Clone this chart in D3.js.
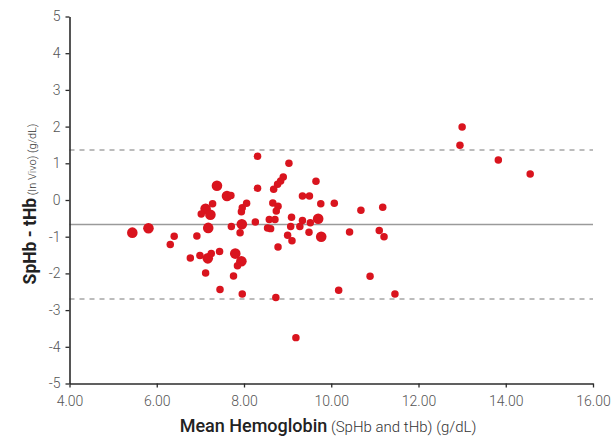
<!DOCTYPE html>
<html>
<head>
<meta charset="utf-8">
<script src="https://cdn.jsdelivr.net/npm/d3@7"></script>
<style>
  html, body { margin: 0; padding: 0; background: #fff; }
  svg { display: block; }
  .tick text { font-family: Roboto, "DejaVu Sans", sans-serif; font-size: 14px; font-weight: 300; fill: #555; }
</style>
</head>
<body>
<svg id="chart" width="612" height="440"></svg>
<script>
// Mean of SpHb and tHb (g/dL)
const meanHb = [
  5.44, 5.81, 6.40, 6.31, 6.92, 6.77, 6.99, 7.17, 7.25, 7.44,
  7.12, 7.45, 7.80, 7.94, 7.85, 7.76, 7.96, 7.38, 7.61, 7.70,
  7.28, 7.12, 7.23, 7.02, 7.18, 7.71, 7.95, 7.91, 7.96, 7.94,
  8.06, 8.26, 8.31, 8.31, 9.03, 8.90, 8.84, 8.77, 8.68, 9.65,
  8.66, 8.78, 8.74, 9.34, 9.50, 9.76, 10.07, 10.68, 11.18, 8.58,
  8.71, 8.54, 8.61, 9.09, 9.07, 9.34, 9.28, 9.52, 9.70, 9.49,
  9.77, 9.00, 9.10, 8.78, 10.42, 11.10, 11.21, 10.89, 10.17, 11.46,
  8.73, 9.19, 13.00, 12.95, 13.83, 14.56
];
// Difference SpHb - tHb (g/dL)
const diffHb = [
  -0.89, -0.77, -0.99, -1.21, -0.98, -1.58, -1.51, -1.59, -1.46, -1.40,
  -1.99, -2.44, -1.46, -1.67, -1.79, -2.07, -2.56, 0.39, 0.11, 0.12,
  -0.10, -0.24, -0.40, -0.38, -0.76, -0.72, -0.66, -0.89, -0.21, -0.32,
  -0.09, -0.60, 0.32, 1.19, 1.00, 0.63, 0.52, 0.43, 0.29, 0.51,
  -0.08, -0.17, -0.30, 0.11, 0.11, -0.10, -0.09, -0.28, -0.20, -0.53,
  -0.53, -0.76, -0.78, -0.47, -0.72, -0.56, -0.72, -0.62, -0.51, -0.88,
  -1.00, -0.96, -1.11, -1.28, -0.87, -0.83, -1.00, -2.08, -2.46, -2.56,
  -2.66, -3.75, 1.99, 1.49, 1.09, 0.71
];
// Number of coincident observations at each point
const pointCount = [
  2, 2, 1, 1, 1, 1, 1, 2, 1, 1,
  1, 1, 2, 2, 1, 1, 1, 2, 2, 1,
  1, 2, 2, 1, 2, 1, 2, 1, 1, 1,
  1, 1, 1, 1, 1, 1, 1, 1, 1, 1,
  1, 1, 1, 1, 1, 1, 1, 1, 1, 1,
  1, 1, 1, 1, 1, 1, 1, 1, 2, 1,
  2, 1, 1, 1, 1, 1, 1, 1, 1, 1,
  1, 1, 1, 1, 1, 1
];
// Bias and 95% limits of agreement
const bias = -0.67;
const limits = [1.36, -2.70];

const xTicks = [4, 6, 8, 10, 12, 14, 16];
const yTicks = [-5, -4, -3, -2, -1, 0, 1, 2, 3, 4, 5];

const points = meanHb.map((m, i) => ({ x: m, y: diffHb[i], n: pointCount[i] }));

const svg = d3.select("#chart");
const x = d3.scaleLinear().domain([4, 16]).range([69.5, 593]);
const y = d3.scaleLinear().domain([-5, 5]).range([383.5, 16.5]);
const r = d3.scaleSqrt().domain([0, 2]).range([0, 5.3]);

// Limits of agreement (dashed) and bias (solid)
svg.append("g").selectAll("line.loa")
  .data(limits)
  .join("line")
  .attr("class", "loa")
  .attr("x1", x.range()[0]).attr("x2", x.range()[1])
  .attr("y1", d => y(d)).attr("y2", d => y(d))
  .attr("stroke", "#a6a6a6")
  .attr("stroke-width", 1.5)
  .attr("stroke-dasharray", "5,5");

svg.append("line")
  .attr("x1", x.range()[0]).attr("x2", x.range()[1])
  .attr("y1", y(bias)).attr("y2", y(bias))
  .attr("stroke", "#9a9a9a")
  .attr("stroke-width", 1.5);

// Axes
const xAxis = svg.append("g")
  .attr("transform", `translate(0,${y.range()[0]})`)
  .call(d3.axisBottom(x).tickValues(xTicks).tickFormat(d3.format(".2f"))
    .tickSize(4).tickSizeOuter(0).tickPadding(9));

const yAxis = svg.append("g")
  .attr("transform", `translate(${x.range()[0]},0)`)
  .call(d3.axisLeft(y).tickValues(yTicks).tickFormat(d3.format("d"))
    .tickSize(4).tickSizeOuter(0).tickPadding(5));

[xAxis, yAxis].forEach(g => {
  g.select(".domain").attr("stroke", "#2b2b2b").attr("stroke-width", 1.6);
  g.selectAll(".tick line").attr("stroke", "#2b2b2b").attr("stroke-width", 1.3);
});
yAxis.selectAll(".tick text").text(d => d < 0 ? "-" + Math.abs(d) : d);

// Data points
svg.append("g").selectAll("circle")
  .data(points)
  .join("circle")
  .attr("cx", d => x(d.x))
  .attr("cy", d => y(d.y))
  .attr("r", d => r(d.n))
  .attr("fill", "#d9141e");

// Axis titles
const xTitle = svg.append("text")
  .attr("x", 328)
  .attr("y", 432)
  .attr("text-anchor", "middle")
  .style("font-family", "Roboto, 'DejaVu Sans', sans-serif");
xTitle.append("tspan").text("Mean Hemoglobin")
  .style("font-size", "18px").style("font-weight", 500).attr("fill", "#222");
xTitle.append("tspan").text(" (SpHb and tHb) (g/dL)")
  .style("font-size", "15px").style("font-weight", 300).attr("fill", "#333");

const yTitle = svg.append("text")
  .attr("transform", "translate(36,204) rotate(-90)")
  .attr("text-anchor", "middle")
  .style("font-family", "Roboto, 'DejaVu Sans', sans-serif");
yTitle.append("tspan").text("SpHb - tHb")
  .style("font-size", "17.5px").style("font-weight", 700).attr("fill", "#222");
yTitle.append("tspan").text(" (In Vivo) (g/dL)")
  .style("font-size", "11px").style("font-weight", 300).attr("fill", "#333");
</script>
</body>
</html>
